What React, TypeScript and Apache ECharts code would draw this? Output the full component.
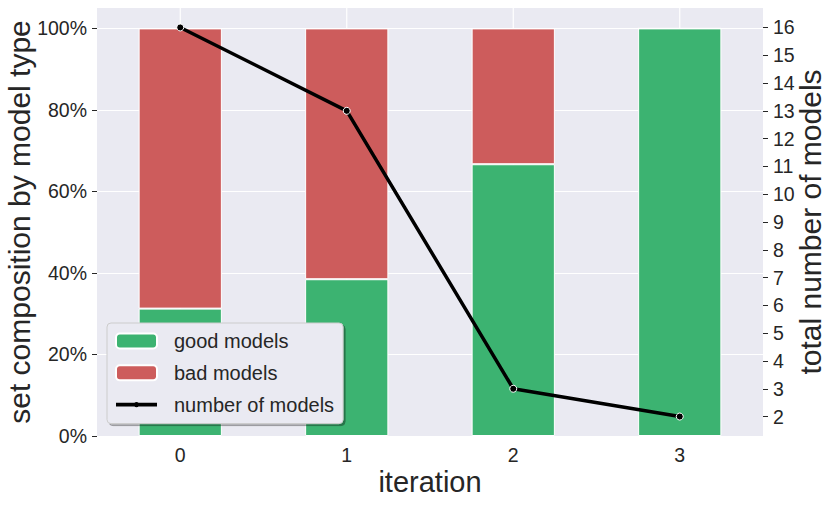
import React, { useEffect, useRef } from "react";
import * as echarts from "echarts";

const iterations = ["0", "1", "2", "3"];
const goodModelsPct = [31.25, 38.46, 66.67, 100];
const badModelsPct = [68.75, 61.54, 33.33, 0];
const numberOfModels = [16, 13, 3, 2];
const leftTicks = [0, 20, 40, 60, 80, 100];
const rightTicks = [2, 3, 4, 5, 6, 7, 8, 9, 10, 11, 12, 13, 14, 15, 16];

const FONT = '"Liberation Sans", Arial, Helvetica, sans-serif';
const TXT = "#262626";
const LINE_ICON =
  "path://M0,0 M41,15 M0,5.6 L41,5.6 L41,9.4 L0,9.4 Z M23.2,7.5 A2.7,2.7 0 1 1 17.8,7.5 A2.7,2.7 0 1 1 23.2,7.5 Z";

export default function App() {
  const ref = useRef<HTMLDivElement>(null);
  useEffect(() => {
    if (!ref.current) return;
    const chart = echarts.init(ref.current, undefined, { renderer: "svg" });
    chart.setOption({
      animation: false,
      textStyle: { fontFamily: FONT },
      grid: {
        left: 97,
        right: 68,
        top: 8,
        bottom: 70,
        show: true,
        backgroundColor: "#EAEAF2",
        borderWidth: 0,
        outerBoundsMode: "none",
        containLabel: false,
      },
      legend: {
        data: [
          { name: "good models" },
          { name: "bad models" },
          { name: "number of models", icon: LINE_ICON, itemStyle: { borderWidth: 0 } },
        ],
        orient: "vertical",
        left: 107,
        top: 323,
        padding: [7, 9, 8, 8],
        itemWidth: 41,
        itemHeight: 15,
        itemGap: 9.8,
        backgroundColor: "#EAEAF2",
        borderColor: "#cccccc",
        borderWidth: 1,
        borderRadius: 4,
        shadowColor: "rgba(0,0,0,0.35)",
        shadowOffsetX: 2,
        shadowOffsetY: 2,
        shadowBlur: 1,
        textStyle: {
          fontFamily: FONT,
          fontSize: 20,
          color: TXT,
          lineHeight: 22,
          padding: [0, 0, 0, 12],
        },
      },
      xAxis: {
        type: "category",
        data: iterations,
        name: "iteration",
        nameLocation: "middle",
        nameGap: 31,
        nameMoveOverlap: false,
        nameTextStyle: { fontFamily: FONT, fontSize: 29, color: TXT },
        axisLine: { show: false },
        axisTick: { show: false },
        splitLine: { show: false },
        axisLabel: { fontFamily: FONT, fontSize: 19.5, color: TXT, margin: 9 },
      },
      yAxis: [
        {
          type: "value",
          min: 0,
          max: 105,
          interval: 20,
          name: "set composition by model type",
          nameLocation: "middle",
          nameGap: 63,
          nameMoveOverlap: false,
          nameTextStyle: { fontFamily: FONT, fontSize: 30, color: TXT },
          axisLine: { show: false },
          axisTick: {
            show: true,
            length: 5,
            lineStyle: { color: TXT, width: 1 },
            customValues: leftTicks,
          },
          axisLabel: {
            fontFamily: FONT,
            fontSize: 19.5,
            color: TXT,
            margin: 10,
            customValues: leftTicks,
            formatter: (v: number) => (v % 20 === 0 ? `${v}%` : ""),
          },
          splitLine: { show: true, lineStyle: { color: "#ffffff", width: 1.2 } },
        },
        {
          type: "value",
          min: 1.3,
          max: 16.7,
          position: "right",
          name: "total number of models",
          nameLocation: "middle",
          nameRotate: 90,
          nameGap: 32,
          nameMoveOverlap: false,
          nameTextStyle: { fontFamily: FONT, fontSize: 30, color: TXT },
          axisLine: { show: false },
          axisTick: {
            show: true,
            length: 5,
            lineStyle: { color: TXT, width: 1 },
            customValues: rightTicks,
          },
          axisLabel: {
            fontFamily: FONT,
            fontSize: 19.5,
            color: TXT,
            margin: 10,
            customValues: rightTicks,
            formatter: (v: number) => `${v}`,
          },
          splitLine: { show: false },
        },
      ],
      series: [
        {
          name: "vgrid",
          type: "custom",
          z: 1,
          silent: true,
          data: iterations.map((_, i) => [i]),
          renderItem: (params: any, api: any) => {
            const cs = params.coordSys;
            const x = api.coord([api.value(0), 0])[0];
            return {
              type: "line",
              shape: { x1: x, y1: cs.y, x2: x, y2: cs.y + cs.height },
              style: { stroke: "#ffffff", lineWidth: 1.2 },
            };
          },
        },
        {
          name: "good models",
          type: "bar",
          stack: "comp",
          data: goodModelsPct,
          barWidth: "50%",
          z: 2,
          itemStyle: { color: "#3CB371", borderColor: "#ffffff", borderWidth: 1 },
        },
        {
          name: "bad models",
          type: "bar",
          stack: "comp",
          data: badModelsPct,
          barWidth: "50%",
          z: 2,
          itemStyle: { color: "#CD5C5C", borderColor: "#ffffff", borderWidth: 1 },
        },
        {
          name: "number of models",
          type: "line",
          yAxisIndex: 1,
          data: numberOfModels,
          z: 5,
          symbol: "circle",
          symbolSize: 7,
          lineStyle: { color: "#000000", width: 3.5 },
          itemStyle: { color: "#000000", borderColor: "#ffffff", borderWidth: 1 },
        },
      ],
    });
    return () => chart.dispose();
  }, []);
  return (
    <div
      ref={ref}
      style={{ position: "fixed", left: 0, top: 0, width: 831, height: 506, background: "#ffffff" }}
    />
  );
}
